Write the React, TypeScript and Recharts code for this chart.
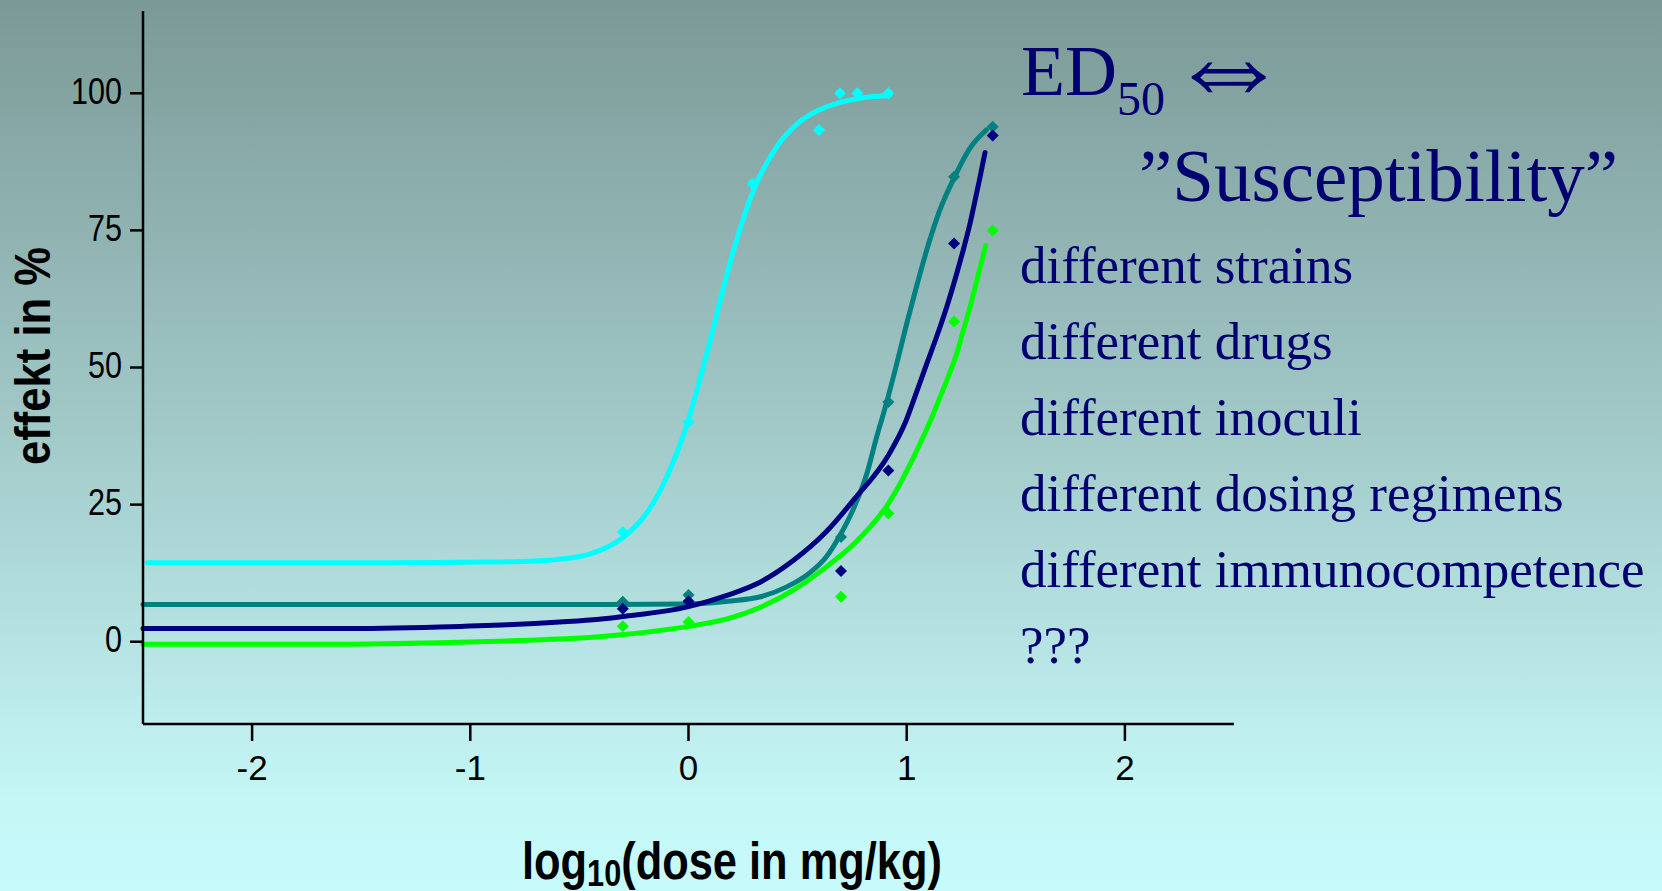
import React from "react";
import { ComposedChart, Line, Scatter, XAxis, YAxis } from "recharts";

const W = 1662;
const H = 891;

const xTicks = [-2, -1, 0, 1, 2];
const yTicks = [0, 25, 50, 75, 100];

// [log10 dose, effect %]
const cyanPts = [[-0.301, 20], [0, 40], [0.294, 83.5], [0.598, 93.3], [0.694, 100], [0.774, 100], [0.916, 100]];
const tealPts = [[-0.301, 7.3], [0, 8.5], [0.699, 19.1], [0.916, 43.7], [1.217, 84.8], [1.394, 93.9]];
const navyPts = [[-0.301, 6.0], [0, 7.4], [0.699, 12.9], [0.916, 31.2], [1.217, 72.6], [1.394, 92.3]];
const greenPts = [[-0.301, 2.8], [0, 3.6], [0.699, 8.2], [0.916, 23.4], [1.217, 58.4], [1.394, 75.0]];

// fitted curves
const cyanFit = [
  [-2.48, 14.4], [-2.0, 14.4], [-1.5, 14.4], [-1.0, 14.5], [-0.8, 14.6], [-0.6, 15.0], [-0.45, 16.0],
  [-0.3, 19], [-0.2, 23], [-0.1, 30], [0, 40.5], [0.05, 47.5], [0.1, 55], [0.15, 63], [0.2, 70.5],
  [0.25, 77], [0.3, 82.5], [0.4, 90], [0.5, 94.5], [0.6, 97], [0.7, 98.4], [0.8, 99.2], [0.92, 99.6],
];
const tealFit = [
  [-2.5, 6.8], [-1.5, 6.8], [-0.5, 6.8], [0, 6.9], [0.18, 7.4], [0.33, 8.2], [0.45, 10.0], [0.56, 12.7],
  [0.63, 15.4], [0.69, 19.1], [0.76, 24.6], [0.82, 31], [0.86, 37], [0.9, 42.5], [0.95, 50], [1.0, 58],
  [1.05, 65.5], [1.1, 72.5], [1.15, 78.5], [1.22, 84.8], [1.29, 90], [1.365, 93.3],
];
const navyFit = [
  [-2.5, 2.4], [-1.6, 2.4], [-1.14, 2.7], [-0.83, 3.1], [-0.59, 3.6], [-0.41, 4.1], [-0.3, 4.6], [0, 6.4],
  [0.18, 8.5], [0.33, 10.9], [0.48, 14.8], [0.63, 20.0], [0.76, 26], [0.916, 34], [0.997, 40.3],
  [1.046, 45.6], [1.092, 50.7], [1.137, 55.6], [1.183, 61.0], [1.229, 67.1], [1.267, 72.6], [1.29, 76.2],
  [1.313, 80.4], [1.336, 84.7], [1.359, 89.2],
];
const greenFit = [
  [-2.5, -0.46], [-1.6, -0.46], [-1.14, -0.2], [-0.83, 0.15], [-0.59, 0.5], [-0.41, 0.9], [-0.3, 1.3],
  [0, 2.8], [0.18, 4.2], [0.33, 6.3], [0.48, 9.4], [0.63, 13.6], [0.76, 17.9], [0.916, 25.2], [1.061, 36.1],
  [1.115, 40.9], [1.153, 44.6], [1.191, 48.4], [1.229, 52.5], [1.259, 56.7], [1.29, 61.0], [1.321, 65.8],
  [1.362, 72.2],
];

const notes = [
  "different strains",
  "different drugs",
  "different inoculi",
  "different dosing regimens",
  "different immunocompetence",
  "???",
];

const CYAN = "#00ffff";
const TEAL = "#008080";
const NAVY = "#000080";
const GREEN = "#00ff00";
const INK = "#000070";
const SANS = "'Liberation Sans', Arial, sans-serif";
const SERIF = "'Liberation Serif', 'Times New Roman', serif";

const toXY = (arr: number[][]) => arr.map(([x, y]) => ({ x, y }));

const Diamond = (props: any) => {
  const { cx, cy, fill } = props;
  const r = 6;
  return (
    <polygon
      points={`${cx},${cy - r} ${cx + r},${cy} ${cx},${cy + r} ${cx - r},${cy}`}
      fill={fill}
    />
  );
};

const XTick = ({ x, payload }: any) => (
  <text x={x} y={780} textAnchor="middle" fontFamily={SANS} fontSize={35} fill="#000">
    {payload.value}
  </text>
);

const YTick = ({ y, payload }: any) => {
  const s = String(payload.value);
  return (
    <text
      x={122}
      y={y + 10.5}
      textAnchor="end"
      fontFamily={SANS}
      fontSize={37}
      fill="#000"
      textLength={s.length * 17}
      lengthAdjust="spacingAndGlyphs"
    >
      {s}
    </text>
  );
};

const XLabel = () => (
  <text
    x={522}
    y={879}
    fontFamily={SANS}
    fontWeight="bold"
    fontSize={51}
    fill="#000"
    textLength={420}
    lengthAdjust="spacingAndGlyphs"
  >
    log
    <tspan fontSize={36} dy={7}>10</tspan>
    <tspan dy={-7}>(dose in mg/kg)</tspan>
  </text>
);

const YLabel = () => (
  <text
    x={50}
    y={356}
    transform="rotate(-90 50 356)"
    textAnchor="middle"
    fontFamily={SANS}
    fontWeight="bold"
    fontSize={50}
    fill="#000"
    textLength={218}
    lengthAdjust="spacingAndGlyphs"
  >
    effekt in %
  </text>
);

const series = [
  { name: "teal", fit: tealFit, pts: tealPts, color: TEAL },
  { name: "navy", fit: navyFit, pts: navyPts, color: NAVY },
  { name: "green", fit: greenFit, pts: greenPts, color: GREEN },
  { name: "cyan", fit: cyanFit, pts: cyanPts, color: CYAN },
];

export default function App() {
  return (
    <div
      style={{
        position: "fixed",
        left: 0,
        top: 0,
        width: W,
        height: H,
        background: "linear-gradient(to bottom, #7b9997 0%, #a3cbca 50%, #c5f7f7 90%, #c7fafa 100%)",
      }}
    >
      <ComposedChart
        width={W}
        height={H}
        margin={{ top: 11, right: 428, bottom: 107, left: 83 }}
      >
        <XAxis
          type="number"
          dataKey="x"
          domain={[-2.5, 2.5]}
          ticks={xTicks}
          height={60}
          tickSize={17}
          axisLine={{ stroke: "#000", strokeWidth: 2.5 }}
          tickLine={{ stroke: "#000", strokeWidth: 2.5 }}
          tick={<XTick />}
          label={{ content: () => <XLabel /> }}
        />
        <YAxis
          type="number"
          dataKey="y"
          domain={[-15, 115]}
          ticks={yTicks}
          width={60}
          tickSize={13}
          axisLine={{ stroke: "#000", strokeWidth: 2.5 }}
          tickLine={{ stroke: "#000", strokeWidth: 2.5 }}
          tick={<YTick />}
          label={{ content: () => <YLabel /> }}
        />
        {series.map((s) => (
          <Line
            key={`fit-${s.name}`}
            data={toXY(s.fit)}
            dataKey="y"
            type="monotone"
            stroke={s.color}
            strokeWidth={5}
            strokeLinecap="round"
            dot={false}
            activeDot={false}
            isAnimationActive={false}
          />
        ))}
        {series.map((s) => (
          <Scatter
            key={`pts-${s.name}`}
            data={toXY(s.pts)}
            dataKey="y"
            fill={s.color}
            shape={<Diamond />}
            isAnimationActive={false}
          />
        ))}
      </ComposedChart>
      <svg
        width={W}
        height={H}
        style={{ position: "absolute", left: 0, top: 0, pointerEvents: "none" }}
      >
        <text x={1021} y={95} fontFamily={SERIF} fontSize={72} fill={INK}>
          ED<tspan fontSize={48} dy={20}>50</tspan>
        </text>
        <text x={1166} y={106} fontFamily={SERIF} fontSize={125} fill={INK}>
          ⇔
        </text>
        <text x={1139} y={201} fontFamily={SERIF} fontSize={75} fill={INK}>
          ”Susceptibility”
        </text>
        {notes.map((t, i) => (
          <text key={t} x={1020} y={283 + i * 76} fontFamily={SERIF} fontSize={53} fill={INK}>
            {t}
          </text>
        ))}
      </svg>
    </div>
  );
}
